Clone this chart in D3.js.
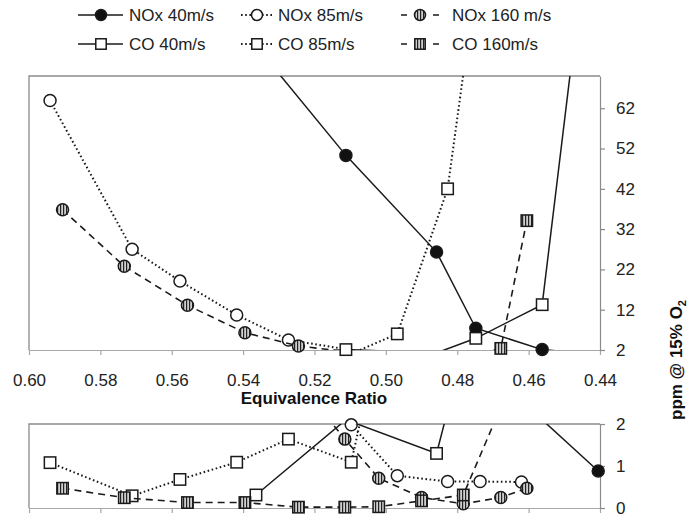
<!DOCTYPE html>
<html>
<head>
<meta charset="utf-8">
<script src="https://cdn.jsdelivr.net/npm/d3@7"></script>
<style>
  html, body { margin: 0; padding: 0; background: #fff; }
  svg { display: block; font-family: "Liberation Sans", Arial, sans-serif; }
</style>
</head>
<body>
<svg id="chart" width="692" height="518"></svg>
<script>
// Equivalence ratio at each operating point, per inlet velocity
const phi40  = [0.5364, 0.5112, 0.4858, 0.4748, 0.4562, 0.4405];
const phi85  = [0.5941, 0.5711, 0.5577, 0.5418, 0.5273, 0.5097, 0.4968, 0.4827, 0.4736, 0.4620];
const phi160 = [0.5906, 0.5733, 0.5556, 0.5395, 0.5245, 0.5115, 0.5020, 0.4900, 0.4783, 0.4678, 0.4605];

// Emissions, ppm @ 15% O2
const nox40  = [77.5, 50.3, 26.3, 7.4, 2.1, 0.88];
const co40   = [0.31, 2.1, 1.3, 4.9, 13.25, 128];
const nox85  = [63.9, 27.0, 19.1, 10.7, 4.5, 1.98, 0.77, 0.63, 0.63, 0.62];
const co85   = [1.08, 0.29, 0.68, 1.09, 1.64, 1.09, 6.0, 42.0, 101, null];
const nox160 = [36.8, 22.8, 13.1, 6.3, 3.0, 1.64, 0.71, 0.25, 0.10, 0.25, 0.47];
const co160  = [0.47, 0.245, 0.13, 0.13, 0.02, 0.02, 0.03, 0.17, 0.31, 2.4, 34.1];

const seriesNames = ["NOx 40m/s", "NOx 85m/s", "NOx 160 m/s", "CO 40m/s", "CO 85m/s", "CO 160m/s"];

// Axis ticks
const xTicks = [0.60, 0.58, 0.56, 0.54, 0.52, 0.50, 0.48, 0.46, 0.44];
const yTopTicks = [2, 12, 22, 32, 42, 52, 62];
const yBotTicks = [0, 1, 2];

const series = [
  { name: seriesNames[0], x: phi40,  y: nox40,  line: "solid",  marker: "circle", fill: "#111" },
  { name: seriesNames[1], x: phi85,  y: nox85,  line: "dotted", marker: "circle", fill: "#fff" },
  { name: seriesNames[2], x: phi160, y: nox160, line: "dashed", marker: "circle", fill: "url(#vhatch)" },
  { name: seriesNames[3], x: phi40,  y: co40,   line: "solid",  marker: "square", fill: "#fff" },
  { name: seriesNames[4], x: phi85,  y: co85,   line: "dotted", marker: "square", fill: "#fff" },
  { name: seriesNames[5], x: phi160, y: co160,  line: "dashed", marker: "square", fill: "url(#vhatch)" }
];

const svg = d3.select("#chart");
const ink = "#1a1a1a";
const frameColor = "#8a8a8a";
const axisColor = "#a8a8a8";

const defs = svg.append("defs");
const pat = defs.append("pattern").attr("id", "vhatch")
  .attr("width", 3).attr("height", 3).attr("patternUnits", "userSpaceOnUse");
pat.append("rect").attr("width", 3).attr("height", 3).attr("fill", "#cfcfcf");
pat.append("rect").attr("x", 0).attr("width", 1.2).attr("height", 3).attr("fill", "#222");

const left = 29, right = 600;
const x = d3.scaleLinear().domain([0.60, 0.44]).range([left, right]);

const panels = [
  { id: "top", y: d3.scaleLinear().domain([2, 70]).range([350, 76]), ticks: yTopTicks, labels: true },
  { id: "bot", y: d3.scaleLinear().domain([0, 2]).range([508, 424]), ticks: yBotTicks, labels: false }
];

const dash = { solid: null, dotted: "1.6,2.6", dashed: "7,5" };
const width = { solid: 1.5, dotted: 2, dashed: 1.6 };

function drawMarker(g, type, cx, cy, fill, size) {
  if (type === "circle") {
    g.append("circle").attr("cx", cx).attr("cy", cy).attr("r", size)
      .attr("fill", fill).attr("stroke", ink).attr("stroke-width", 1.5);
  } else {
    const s = size * 1.9;
    g.append("rect").attr("x", cx - s / 2).attr("y", cy - s / 2)
      .attr("width", s).attr("height", s)
      .attr("fill", fill).attr("stroke", ink).attr("stroke-width", 1.5);
  }
}

panels.forEach(p => {
  const [y0, y1] = p.y.range();
  const [lo, hi] = p.y.domain();
  defs.append("clipPath").attr("id", "clip-" + p.id)
    .append("rect").attr("x", left).attr("y", y1).attr("width", right - left).attr("height", y0 - y1);

  const g = svg.append("g");

  // x axis with outward ticks
  const xa = d3.axisBottom(x).tickValues(xTicks).tickSize(5).tickSizeOuter(0)
    .tickFormat(p.labels ? d3.format(".2f") : "").tickPadding(19);
  const gx = g.append("g").attr("transform", `translate(0,${y0})`).call(xa);
  gx.select(".domain").attr("stroke", axisColor).attr("stroke-width", 1.2);
  gx.selectAll(".tick line").attr("stroke", axisColor).attr("stroke-width", 1.2);
  gx.selectAll(".tick text").attr("fill", "#222").attr("font-size", 17)
    .attr("font-family", "Liberation Sans, Arial, sans-serif");

  // right-hand value axis
  const ya = d3.axisRight(p.y).tickValues(p.ticks).tickFormat(d3.format("d"))
    .tickSize(5).tickSizeOuter(0).tickPadding(11);
  const gy = g.append("g").attr("transform", `translate(${right},0)`).call(ya);
  gy.select(".domain").attr("stroke", frameColor).attr("stroke-width", 1.2);
  gy.selectAll(".tick line").attr("stroke", frameColor).attr("stroke-width", 1.2);
  gy.selectAll(".tick text").attr("fill", "#222").attr("font-size", 17)
    .attr("font-family", "Liberation Sans, Arial, sans-serif");

  // plot frame: top and left edges
  g.append("path")
    .attr("d", `M${left},${y0}V${y1}H${right}`)
    .attr("fill", "none").attr("stroke", frameColor).attr("stroke-width", 1.3);

  // series: line then markers
  series.forEach(s => {
    const pts = s.x.map((xv, i) => [xv, s.y[i]]).filter(d => d[1] != null);
    const line = d3.line().x(d => x(d[0])).y(d => p.y(d[1]));
    g.append("path").attr("d", line(pts))
      .attr("clip-path", `url(#clip-${p.id})`)
      .attr("fill", "none").attr("stroke", ink)
      .attr("stroke-width", width[s.line])
      .attr("stroke-dasharray", dash[s.line]);
    const mg = g.append("g");
    pts.filter(d => d[1] >= lo && d[1] <= hi).forEach(d => {
      drawMarker(mg, s.marker, x(d[0]), p.y(d[1]), s.fill, 6);
    });
  });
});

// axis titles
svg.append("text").attr("x", 314).attr("y", 404).attr("text-anchor", "middle")
  .attr("font-size", 17).attr("font-weight", "bold").attr("fill", "#111")
  .text("Equivalence Ratio");

const yt = svg.append("text").attr("transform", "translate(682,360) rotate(-90)")
  .attr("text-anchor", "middle").attr("font-size", 17).attr("font-weight", "bold").attr("fill", "#111");
yt.append("tspan").text("ppm @ 15% O");
yt.append("tspan").attr("font-size", 11).attr("dy", 4).text("2");

// legend, three columns by two rows
const legendCols = [
  { lx0: 78,  lx1: 123, mx: 101, tx: 129 },
  { lx0: 241, lx1: 273, mx: 257, tx: 278 },
  { lx0: 401, lx1: 439, mx: 420, tx: 452 }
];
const legendRows = [15, 44];
series.forEach((s, i) => {
  const c = legendCols[i % 3];
  const ly = legendRows[Math.floor(i / 3)];
  const lg = svg.append("g");
  if (s.line === "dashed") {
    lg.append("path").attr("d", `M${c.lx0},${ly}h6M${c.lx1 - 6},${ly}h6`)
      .attr("stroke", ink).attr("stroke-width", 1.6);
  } else {
    lg.append("path").attr("d", `M${c.lx0},${ly}H${c.lx1}`)
      .attr("stroke", ink).attr("stroke-width", width[s.line])
      .attr("stroke-dasharray", dash[s.line]);
  }
  drawMarker(lg, s.marker, c.mx, ly, s.fill, 5.5);
  lg.append("text").attr("x", c.tx).attr("y", ly).attr("dy", "0.36em")
    .attr("font-size", 17).attr("fill", "#222").text(s.name);
});
</script>
</body>
</html>
